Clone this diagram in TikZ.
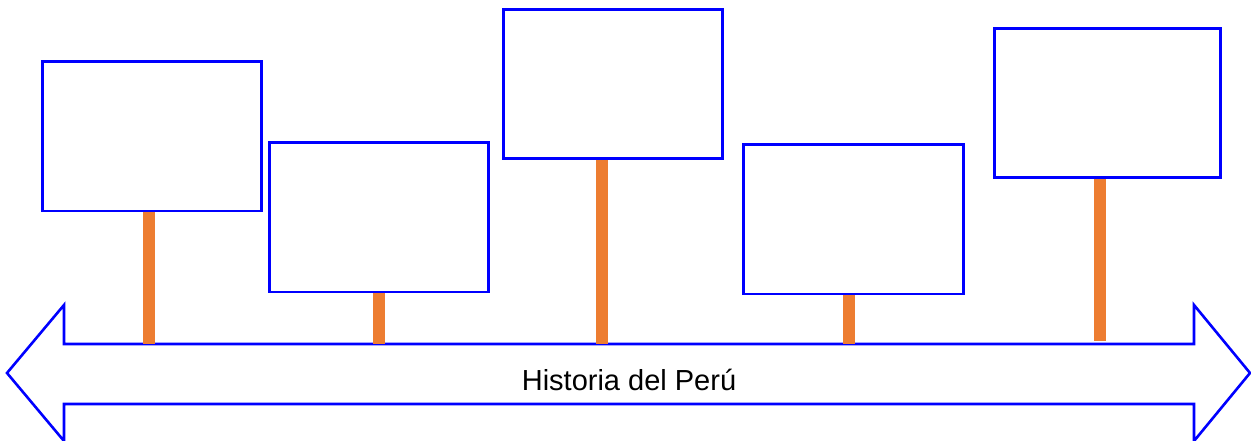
\documentclass[tikz,border=0pt]{standalone}
\usepackage{fontspec}
\setmainfont{Liberation Sans}
\definecolor{boxblue}{RGB}{0,0,255}
\definecolor{stemorange}{RGB}{237,125,49}
\begin{document}
\begin{tikzpicture}[x=1pt,y=-1pt,
  card/.style={draw=boxblue,line width=2.6pt,fill=white,inner sep=0pt,anchor=north west,minimum height=149pt},
  stem/.style={draw=stemorange,line width=12pt}]
\useasboundingbox (0,0) rectangle (1251,441);
% double arrow
\draw[draw=boxblue,line width=2.6pt,line join=miter]
  (7,373) -- (64,305) -- (64,344) -- (1194,344) -- (1194,305) -- (1250,373)
  -- (1194,441) -- (1194,404) -- (64,404) -- (64,441) -- cycle;
\node (label) at (629,380) {\fontsize{29}{34}\selectfont Historia del Perú};
\coordinate (b1) at (149,344);
\coordinate (b2) at (379,344);
\coordinate (b3) at (602,344);
\coordinate (b4) at (849,344);
\coordinate (b5) at (1100,341);
% boxes
\node[card,minimum width=219pt] (c1) at (41,60.5) {};
\node[card,minimum width=219pt] (c2) at (268,141.5) {};
\node[card,minimum width=219pt] (c3) at (502,8.5) {};
\node[card,minimum width=220pt] (c4) at (742,143.5) {};
\node[card,minimum width=226pt] (c5) at (993,27.5) {};
\draw[stem] (c1.south -| b1) -- (b1);
\draw[stem] (c2.south -| b2) -- (b2);
\draw[stem] (c3.south -| b3) -- (b3);
\draw[stem] (c4.south -| b4) -- (b4);
\draw[stem] (c5.south -| b5) -- (b5);
\end{tikzpicture}
\end{document}
